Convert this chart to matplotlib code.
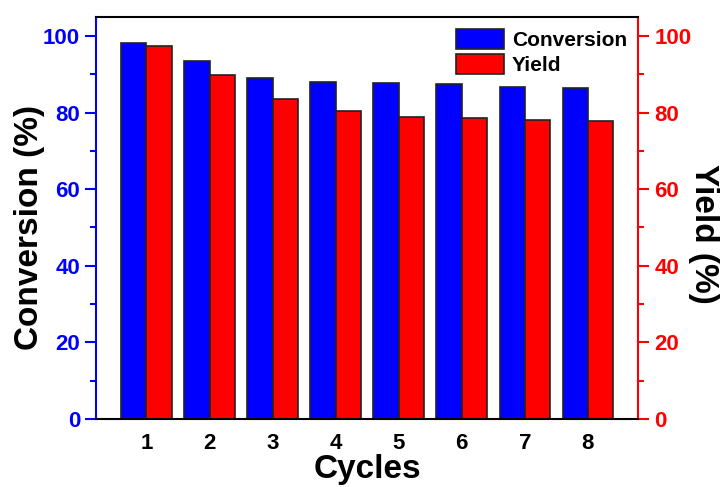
import numpy as np
import matplotlib
matplotlib.use("Agg")
import matplotlib.pyplot as plt
from matplotlib.ticker import MultipleLocator

# catalyst recycling data
cycles = [1, 2, 3, 4, 5, 6, 7, 8]
conversion = [98.2, 93.6, 89.1, 88.1, 87.8, 87.4, 86.8, 86.5]
yield_pct = [97.4, 89.8, 83.5, 80.5, 78.9, 78.5, 78.1, 77.8]

plt.rcParams['font.family'] = ['Liberation Sans', 'DejaVu Sans']
plt.rcParams['font.weight'] = 'bold'

fig = plt.figure(figsize=(7.22, 4.87), dpi=100)
ax = fig.add_subplot(111)
fig.subplots_adjust(left=0.133, right=0.884, bottom=0.14, top=0.965)
ax2 = ax.twinx()

x = np.array(cycles)
w = 0.4
b1 = ax.bar(x - w / 2, conversion, w, color='#0000ff', edgecolor='#222222', linewidth=1.2, label='Conversion')
b2 = ax2.bar(x + w / 2, yield_pct, w, color='#ff0000', edgecolor='#222222', linewidth=1.2, label='Yield')

for a in (ax, ax2):
    a.set_ylim(0, 105)
    a.set_xlim(0.2, 8.8)
    a.yaxis.set_major_locator(MultipleLocator(20))
    a.yaxis.set_minor_locator(MultipleLocator(10))

ax.set_xticks(cycles)
ax.tick_params(axis='x', direction='in', length=5, width=1.5, labelsize=16, pad=10)
ax.tick_params(axis='y', which='major', direction='out', length=8, width=1.5,
               colors='#0000ff', labelsize=16)
ax.tick_params(axis='y', which='minor', direction='out', length=4, width=1.5, colors='#0000ff')
ax2.tick_params(axis='y', which='major', direction='out', length=8, width=1.5,
                colors='#ff0000', labelsize=16)
ax2.tick_params(axis='y', which='minor', direction='out', length=4, width=1.5, colors='#ff0000')

for s in ('top', 'bottom'):
    ax2.spines[s].set_linewidth(1.5)
    ax2.spines[s].set_color('black')
ax2.spines['left'].set_color('#0000ff')
ax2.spines['left'].set_linewidth(1.5)
ax2.spines['right'].set_color('#ff0000')
ax2.spines['right'].set_linewidth(1.5)
for s in ax.spines.values():
    s.set_visible(False)

ax.set_xlabel('Cycles', fontsize=24, fontweight='bold', labelpad=0)
ax.set_ylabel('Conversion (%)', fontsize=24, fontweight='bold', va='center')
ax.yaxis.set_label_coords(-0.122, 0.475)
ax2.set_ylabel('Yield (%)', fontsize=24, fontweight='bold', rotation=270, va='center')
ax2.yaxis.set_label_coords(1.12, 0.46)

ax2.legend([b1, b2], ['Conversion', 'Yield'], loc='upper right', frameon=False,
           fontsize=15, handlelength=2.3, handleheight=1.1, labelspacing=0.2,
           handletextpad=0.35, borderaxespad=0.15)

fig.savefig('out.png', dpi=100)
